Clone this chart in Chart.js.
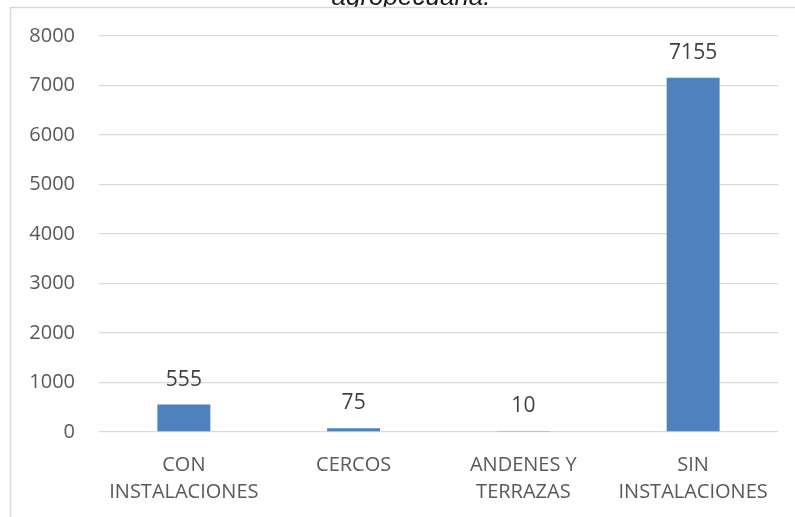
<!DOCTYPE html>
<html>
<head>
<meta charset="utf-8">
<script src="https://cdn.jsdelivr.net/npm/chart.js@4.4.0/dist/chart.umd.min.js"></script>
<style>
  html, body { margin: 0; padding: 0; background: #fff; }
  #wrap { width: 795px; height: 517px; }
</style>
</head>
<body>
<div id="wrap"><canvas id="grafico" width="795" height="517"></canvas></div>
<script>
const categorias = [['CON', 'INSTALACIONES'], 'CERCOS', ['ANDENES Y', 'TERRAZAS'], ['SIN', 'INSTALACIONES']];
const valores = [555, 75, 10, 7155];
const ticksY = [0, 1000, 2000, 3000, 4000, 5000, 6000, 7000, 8000];
const titulo = 'agropecuaria.';

const fuente = '"Open Sans", sans-serif';

// marco y título cortado arriba
const marco = {
  id: 'marco',
  beforeDraw(chart) {
    const ctx = chart.ctx;
    ctx.save();
    ctx.fillStyle = '#ffffff';
    ctx.fillRect(0, 0, chart.width, chart.height);
    ctx.font = 'italic 26px "Liberation Sans", sans-serif';
    ctx.fillStyle = '#1a1a1a';
    ctx.textAlign = 'center';
    ctx.textBaseline = 'alphabetic';
    ctx.fillText(titulo, 411, 5);
    ctx.fillStyle = '#ffffff';
    ctx.fillRect(10, 7, chart.width + 20, chart.height + 20);
    ctx.strokeStyle = '#d9d9d9';
    ctx.lineWidth = 1.5;
    ctx.strokeRect(10.5, 7.5, chart.width + 20, chart.height + 20);
    ctx.restore();
  }
};

// valores encima de cada barra
const etiquetas = {
  id: 'etiquetas',
  afterDatasetsDraw(chart) {
    const ctx = chart.ctx;
    const meta = chart.getDatasetMeta(0);
    ctx.save();
    ctx.font = '21px ' + fuente;
    ctx.fillStyle = '#404040';
    ctx.textAlign = 'center';
    ctx.textBaseline = 'middle';
    meta.data.forEach((bar, i) => {
      ctx.fillText(String(valores[i]), bar.x, bar.y - 25);
    });
    ctx.restore();
  }
};

const grafico = new Chart(document.getElementById('grafico').getContext('2d'), {
  type: 'bar',
  data: {
    labels: categorias,
    datasets: [{
      data: valores,
      backgroundColor: '#4f81bd',
      borderWidth: 0,
      barPercentage: 0.312,
      categoryPercentage: 1
    }]
  },
  options: {
    responsive: false,
    animation: false,
    layout: { padding: { top: 36, right: 17, bottom: 0, left: 0 } },
    plugins: {
      legend: { display: false },
      tooltip: { enabled: false }
    },
    scales: {
      x: {
        grid: { display: false, drawTicks: false },
        border: { display: false },
        ticks: {
          color: '#595959',
          font: { family: fuente, size: 20, lineHeight: 1.35 },
          padding: 19.5,
          maxRotation: 0,
          autoSkip: false
        },
        afterFit(scale) { scale.height = 85; }
      },
      y: {
        min: 0,
        max: 8000,
        afterBuildTicks(scale) { scale.ticks = ticksY.map(v => ({ value: v })); },
        grid: { color: '#d9d9d9', lineWidth: 1.3, drawTicks: false },
        border: { display: false },
        ticks: {
          color: '#595959',
          font: { family: fuente, size: 20 },
          padding: 24,
          callback: (v) => String(v)
        },
        afterFit(scale) { scale.width = 99; }
      }
    }
  },
  plugins: [marco, etiquetas]
});
</script>
</body>
</html>
